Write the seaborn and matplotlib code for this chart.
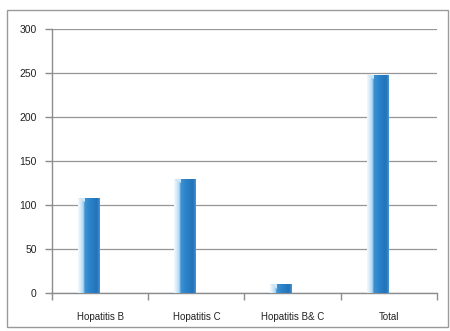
import numpy as np
import pandas as pd
import matplotlib
matplotlib.use("Agg")
import matplotlib.pyplot as plt
from matplotlib.patches import Rectangle
from matplotlib.colors import LinearSegmentedColormap
import seaborn as sns

categories = ["Hopatitis B", "Hopatitis C", "Hopatitis B& C", "Total"]
cases = [108, 130, 10, 248]
y_ticks = [0, 50, 100, 150, 200, 250, 300]

df = pd.DataFrame({"category": categories, "cases": cases})

sns.set_theme(style="white")
plt.rcParams["font.family"] = ["Liberation Sans", "DejaVu Sans"]

fig = plt.figure(figsize=(4.5, 3.31), dpi=100)
ax = fig.add_axes([52 / 450, 1 - 293 / 331, (437 - 52) / 450, (293 - 29) / 331])

bar_w = 0.22
sns.barplot(data=df, x="category", y="cases", ax=ax, width=bar_w,
            color="#2b82c9", saturation=1, zorder=3)

# shaded cylinder look: horizontal gradient clipped to each bar
shade = LinearSegmentedColormap.from_list(
    "shade",
    [(0.0, "#f4fafe"), (0.12, "#d6ebfa"), (0.26, "#a9d2f1"),
     (0.30, "#3b92d4"), (0.6, "#2a80c6"), (0.88, "#2272b9"), (1.0, "#4b9ad6")])
grad = np.linspace(0, 1, 256).reshape(1, -1)
shift = -0.12
for p in ax.patches:
    p.set_x(p.get_x() + shift)
    x0, w, h = p.get_x(), p.get_width(), p.get_height()
    p.set_edgecolor("none")
    im = ax.imshow(grad, cmap=shade, aspect="auto",
                   extent=[x0, x0 + w, 0, h], zorder=4, interpolation="bicubic")
    im.set_clip_path(p)
    # bevelled top-left highlight
    bevel = h - min(5.0, h * 0.5)
    ax.fill([x0, x0 + w * 0.32, x0 + w * 0.32], [h, h, bevel],
            color="#cfe7f9", zorder=5, lw=0)

ax.set_xlim(-0.5, len(categories) - 0.5)
ax.set_ylim(0, 300)
ax.set_yticks(y_ticks)
ax.set_yticklabels([str(v) for v in y_ticks])
ax.set_xlabel("")
ax.set_ylabel("")

ax.yaxis.grid(True, color="#969696", lw=0.9, zorder=0)
ax.set_axisbelow(True)

ax.set_xticks(range(len(categories)))
ax.set_xticklabels(categories)
ax.set_xticks(np.arange(-0.5, len(categories)), minor=True)
ax.tick_params(axis="x", which="major", length=0, pad=14, labelsize=7, colors="#222222")
ax.tick_params(axis="x", which="minor", length=5, width=1, color="#8c8c8c", direction="out", bottom=True)
ax.tick_params(axis="y", length=5, width=1, color="#8c8c8c", direction="out",
               left=True, pad=6, labelsize=7.5, labelcolor="#222222")

for side in ["top", "right"]:
    ax.spines[side].set_visible(False)
for side in ["left", "bottom"]:
    ax.spines[side].set_color("#8c8c8c")
    ax.spines[side].set_linewidth(1.0)

# chart-area frame
fig.patches.append(Rectangle((7 / 450, 1 - 327 / 331), (448 - 7) / 450, (327 - 10) / 331,
                             transform=fig.transFigure, fill=False,
                             edgecolor="#9a9a9a", lw=1.0))

fig.savefig("out.png", dpi=100)
